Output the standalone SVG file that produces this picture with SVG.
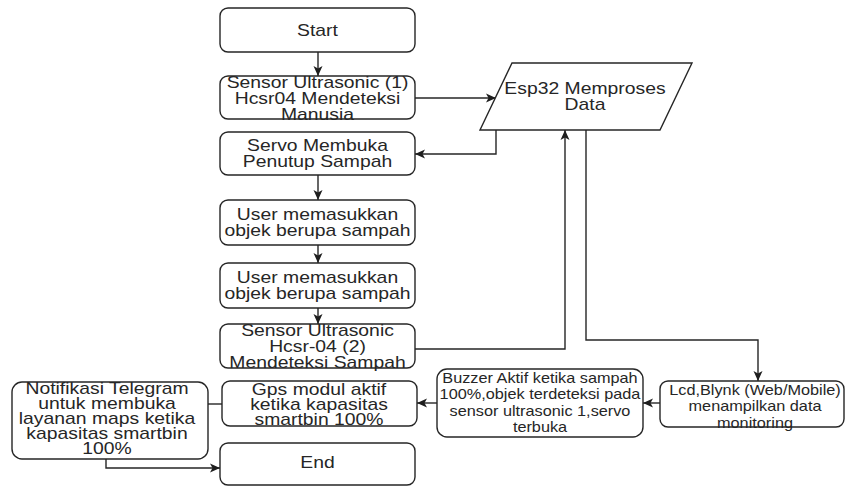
<svg xmlns="http://www.w3.org/2000/svg" width="846" height="487" viewBox="0 0 846 487">
<defs>
<style>
.box{fill:#fff;stroke:#262626;stroke-width:1.4}
.t{font-family:"Liberation Sans",Arial,Helvetica,sans-serif;font-size:16px;fill:#262626;text-anchor:middle}
.s{font-size:13.8px}
.edge{fill:none;stroke:#262626;stroke-width:1.4}
.arr{marker-end:url(#ah)}
</style>
<marker id="ah" markerUnits="userSpaceOnUse" markerWidth="12" markerHeight="10" refX="10" refY="5" orient="auto">
<path d="M0,0.5 L10,5 L0,9.5 L2.5,5 Z" fill="#1e1e1e"/>
</marker>
</defs>
<rect width="846" height="487" fill="#fff"/>

<g id="connectors">
<path class="edge arr" d="M318,52 V76"/>
<path class="edge arr" d="M415,98 H496"/>
<path class="edge arr" d="M496,130 V154 H415"/>
<path class="edge arr" d="M318,175 V200"/>
<path class="edge arr" d="M318,245 V263"/>
<path class="edge arr" d="M318,308 V324"/>
<path class="edge arr" d="M415,349 H565 V130"/>
<path class="edge arr" d="M586,130 V340 H758 V381"/>
<path class="edge arr" d="M660,403 H643"/>
<path class="edge arr" d="M437,403 H417"/>
<path class="edge" d="M222,404 H208"/>
<path class="edge arr" d="M106,459 V468 H220"/>
</g>

<g id="start">
<rect class="box" x="220" y="8" width="195" height="44" rx="8"/>
<text class="t" transform="translate(317.5 0) scale(1.21 1)"><tspan x="0" y="36">Start</tspan></text>
</g>

<g id="sensor1">
<rect class="box" x="220" y="76" width="195" height="43" rx="8"/>
<text class="t" transform="translate(317.5 0) scale(1.21 1)"><tspan x="0" y="88">Sensor Ultrasonic (1)</tspan><tspan x="0" y="104">Hcsr04 Mendeteksi</tspan><tspan x="0" y="120">Manusia</tspan></text>
</g>

<g id="esp32">
<polygon class="box" points="512,63 692,63 660,130 480,130"/>
<text class="t" transform="translate(585 0) scale(1.21 1)"><tspan x="0" y="94.5">Esp32 Memproses</tspan><tspan x="0" y="110.5">Data</tspan></text>
</g>

<g id="servo">
<rect class="box" x="220" y="132" width="195" height="43" rx="8"/>
<text class="t" transform="translate(317.5 0) scale(1.21 1)"><tspan x="0" y="151.5">Servo Membuka</tspan><tspan x="0" y="167.5">Penutup Sampah</tspan></text>
</g>

<g id="user1">
<rect class="box" x="220" y="200" width="195" height="45" rx="8"/>
<text class="t" transform="translate(317.5 0) scale(1.21 1)"><tspan x="0" y="220.5">User memasukkan</tspan><tspan x="0" y="236.5">objek berupa sampah</tspan></text>
</g>

<g id="user2">
<rect class="box" x="220" y="263" width="195" height="45" rx="8"/>
<text class="t" transform="translate(317.5 0) scale(1.21 1)"><tspan x="0" y="283.5">User memasukkan</tspan><tspan x="0" y="299.5">objek berupa sampah</tspan></text>
</g>

<g id="sensor2">
<rect class="box" x="220" y="324" width="195" height="44" rx="8"/>
<text class="t" transform="translate(317.5 0) scale(1.21 1)"><tspan x="0" y="336">Sensor Ultrasonic</tspan><tspan x="0" y="352">Hcsr-04 (2)</tspan><tspan x="0" y="368">Mendeteksi Sampah</tspan></text>
</g>

<g id="lcd">
<rect class="box" x="660" y="381" width="184" height="46" rx="8"/>
<text class="t s" transform="translate(755 0) scale(1.18 1)"><tspan x="0" y="395">Lcd,Blynk (Web/Mobile)</tspan><tspan x="0" y="411.5">menampilkan data</tspan><tspan x="0" y="428">monitoring</tspan></text>
</g>

<g id="buzzer">
<rect class="box" x="437" y="369" width="206" height="68" rx="10"/>
<text class="t s" transform="translate(540 0) scale(1.18 1)"><tspan x="0" y="383">Buzzer Aktif ketika sampah</tspan><tspan x="0" y="399.5">100%,objek terdeteksi pada</tspan><tspan x="0" y="416">sensor ultrasonic 1,servo</tspan><tspan x="0" y="432.5">terbuka</tspan></text>
</g>

<g id="gps">
<rect class="box" x="222" y="381" width="195" height="45" rx="8"/>
<text class="t" transform="translate(319 0) scale(1.21 1)"><tspan x="0" y="395.5">Gps modul aktif</tspan><tspan x="0" y="410.5">ketika kapasitas</tspan><tspan x="0" y="425.5">smartbin 100%</tspan></text>
</g>

<g id="notifikasi">
<rect class="box" x="12" y="382" width="196" height="77" rx="10"/>
<text class="t" transform="translate(107 0) scale(1.21 1)"><tspan x="0" y="394.5">Notifikasi Telegram</tspan><tspan x="0" y="409.5">untuk membuka</tspan><tspan x="0" y="424.5">layanan maps ketika</tspan><tspan x="0" y="439.5">kapasitas smartbin</tspan><tspan x="0" y="454.5">100%</tspan></text>
</g>

<g id="end">
<rect class="box" x="220" y="443" width="195" height="42" rx="8"/>
<text class="t" transform="translate(317.5 0) scale(1.21 1)"><tspan x="0" y="468">End</tspan></text>
</g>
</svg>
